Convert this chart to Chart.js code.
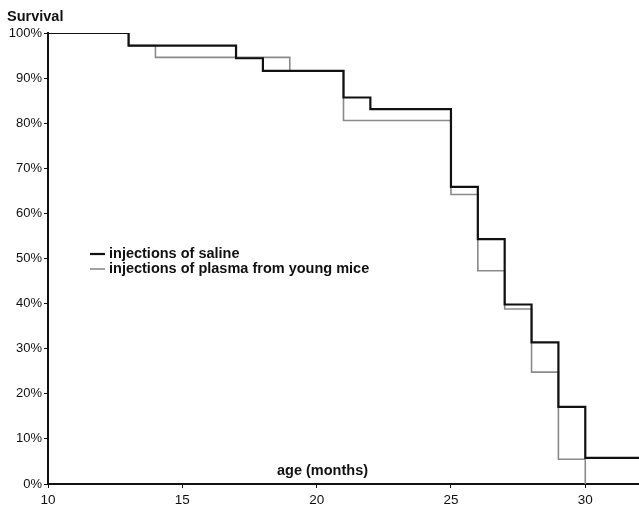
<!DOCTYPE html>
<html>
<head>
<meta charset="utf-8">
<script src="https://cdn.jsdelivr.net/npm/chart.js@4"></script>
<style>
  html, body { margin: 0; padding: 0; background: #fff; }
  #wrap { width: 639px; height: 507px; position: relative; }
</style>
</head>
<body>
<div id="wrap"><canvas id="grafico"></canvas></div>
<script>
// age in months where each step starts, and survival (%) from that age on
const salineAge = [10, 13, 17, 18, 21, 22, 25, 26, 27, 28, 29, 30, 32];
const salineSurv = [100, 97.2, 94.4, 91.6, 85.7, 83.1, 65.9, 54.3, 39.8, 31.4, 17.1, 5.8, 5.8];
const plasmaAge = [10, 13, 14, 19, 21, 25, 26, 27, 28, 29, 30];
const plasmaSurv = [100, 97.2, 94.6, 91.6, 80.6, 64.2, 47.3, 38.8, 24.8, 5.5, 0];
const labels = ['injections of saline', 'injections of plasma from young mice'];

const pts = (xs, ys) => xs.map((x, i) => ({ x, y: ys[i] }));
const FONT = '"Liberation Sans", Arial, sans-serif';

// titles + legend drawn inside the plot like the original figure
const extras = {
  id: 'extras',
  afterDraw(chart) {
    const ctx = chart.ctx;
    ctx.save();
    ctx.fillStyle = '#111';
    ctx.textBaseline = 'middle';
    ctx.font = 'bold 14.5px ' + FONT;
    ctx.textAlign = 'left';
    ctx.fillText('Survival', 7, 17);
    ctx.fillText('age (months)', 277, 471);

    chart.data.datasets.forEach((ds, i) => {
      const y = 254 + i * 15;
      ctx.strokeStyle = ds.borderColor;
      ctx.lineWidth = ds.borderWidth;
      ctx.beginPath();
      ctx.moveTo(90, y);
      ctx.lineTo(105, y);
      ctx.stroke();
      ctx.fillText(ds.label, 109, y);
    });
    ctx.restore();
  }
};

new Chart(document.getElementById('grafico'), {
  type: 'line',
  data: {
    datasets: [
      { label: labels[0], data: pts(salineAge, salineSurv), borderColor: '#111', borderWidth: 2.2 },
      { label: labels[1], data: pts(plasmaAge, plasmaSurv), borderColor: '#8a8a8a', borderWidth: 1.6 }
    ]
  },
  options: {
    responsive: true,
    maintainAspectRatio: false,
    animation: false,
    datasets: { line: { stepped: 'before', pointRadius: 0, fill: false } },
    layout: { padding: { top: 33, right: 0, left: 0, bottom: 0 } },
    plugins: { legend: { display: false }, tooltip: { enabled: false } },
    scales: {
      x: {
        type: 'linear',
        min: 10,
        max: 32,
        afterFit: s => { s.height = 23; },
        border: { color: '#111', width: 2 },
        grid: { drawOnChartArea: false, drawTicks: true, tickLength: 4, color: '#111' },
        ticks: { stepSize: 5, includeBounds: false, color: '#111', padding: 4, maxRotation: 0,
                 font: { family: FONT, size: 13.5 } }
      },
      y: {
        min: 0,
        max: 100,
        afterFit: s => { s.width = 48; },
        border: { color: '#111', width: 2 },
        grid: { drawOnChartArea: false, drawTicks: true, tickLength: 4, color: '#111' },
        ticks: { stepSize: 10, color: '#111', padding: 2,
                 font: { family: FONT, size: 13 }, callback: v => v + '%' }
      }
    }
  },
  plugins: [extras]
});
</script>
</body>
</html>
